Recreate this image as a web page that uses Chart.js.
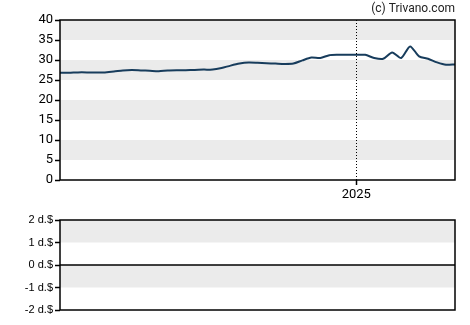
<!DOCTYPE html>
<html><head><meta charset="utf-8">
<script src="https://cdn.jsdelivr.net/npm/chart.js@4/dist/chart.umd.min.js"></script>
<style>
html,body{margin:0;padding:0;background:#fff;}
#top{position:absolute;left:0;top:0;width:470px;height:200px;}
#bot{position:absolute;left:0;top:200px;width:470px;height:125px;}
</style></head><body>
<div id="top"><canvas id="c1"></canvas></div>
<div id="bot"><canvas id="c2"></canvas></div>
<script>
const dates = ['2024-05-15','2024-05-22','2024-05-29','2024-06-05','2024-06-12','2024-06-19','2024-06-26',
'2024-07-03','2024-07-10','2024-07-17','2024-07-24','2024-07-31','2024-08-07','2024-08-14','2024-08-21','2024-08-28',
'2024-09-04','2024-09-11','2024-09-18','2024-09-25','2024-10-02','2024-10-09','2024-10-16','2024-10-23','2024-10-30',
'2024-11-06','2024-11-13','2024-11-20','2024-11-27','2024-12-04','2024-12-11','2024-12-18','2024-12-25',
'2025-01-01','2025-01-08','2025-01-15','2025-01-22','2025-01-29','2025-02-05','2025-02-12','2025-02-19','2025-02-26',
'2025-03-05','2025-03-12','2025-03-19'];
const prices = [26.8,26.8,26.9,26.9,26.85,26.9,27.1,27.4,27.5,27.4,27.3,27.2,27.4,27.45,27.45,27.5,27.6,27.6,
28.0,28.6,29.1,29.35,29.3,29.2,29.1,29.0,29.1,29.9,30.6,30.5,31.2,31.3,31.3,31.3,31.3,30.5,30.3,31.9,30.5,33.4,
30.9,30.3,29.4,28.8,28.9];
const priceTicks = [0,5,10,15,20,25,30,35,40];
const dividendTicks = [-2,-1,0,1,2];
const dividendUnit = ' d.$';
const yearTickDate = '2025-01-01';
const yearTickLabel = '2025';
const copyright = '(c) Trivano.com';

const DAY = 86400000;
const t0 = Date.parse(dates[0]);
const dayOf = d => (Date.parse(d) - t0) / DAY;
const points = dates.map((d, i) => ({x: dayOf(d), y: prices[i]}));

Chart.defaults.font.family = "Roboto, 'Liberation Sans', Arial, sans-serif";
Chart.defaults.font.size = 13;
Chart.defaults.color = '#000';

const bandsPlugin = {
  id: 'bands',
  beforeDatasetsDraw(chart) {
    const {ctx, chartArea: a, scales: {y}} = chart;
    const vals = y.ticks.map(t => t.value).sort((p, q) => p - q);
    ctx.save();
    ctx.fillStyle = '#ebebeb';
    for (let i = 1; i < vals.length - 1; i += 2) {
      const yTop = y.getPixelForValue(vals[i + 1]);
      const yBot = y.getPixelForValue(vals[i]);
      ctx.fillRect(a.left, yTop, a.right - a.left, yBot - yTop);
    }
    ctx.restore();
  }
};

const framePlugin = {
  id: 'frame',
  afterDraw(chart, args, opts) {
    const {ctx, chartArea: a, scales} = chart;
    ctx.save();
    if (opts.markDate) {
      const xp = Math.round(scales.x.getPixelForValue(dayOf(opts.markDate))) + 0.5;
      ctx.strokeStyle = '#000';
      ctx.lineWidth = 1;
      ctx.setLineDash([1, 2]);
      ctx.beginPath();
      ctx.moveTo(xp, a.top);
      ctx.lineTo(xp, a.bottom);
      ctx.stroke();
      ctx.setLineDash([]);
    }
    if (opts.zeroLine) {
      const yp = Math.round(scales.y.getPixelForValue(0));
      ctx.strokeStyle = '#000';
      ctx.lineWidth = 1.5;
      ctx.beginPath();
      ctx.moveTo(a.left, yp);
      ctx.lineTo(a.right, yp);
      ctx.stroke();
    }
    ctx.strokeStyle = '#000';
    ctx.lineWidth = 1.5;
    ctx.strokeRect(a.left, a.top, a.right - a.left, a.bottom - a.top);
    if (opts.text) {
      ctx.fillStyle = '#222';
      ctx.font = "12px Roboto, 'Liberation Sans', sans-serif";
      ctx.textAlign = 'right';
      ctx.textBaseline = 'middle';
      ctx.fillText(opts.text, a.right, 9);
    }
    ctx.restore();
  }
};

new Chart(document.getElementById('c1'), {
  type: 'line',
  data: {datasets: [{
    data: points,
    borderColor: '#173c5c',
    borderWidth: 2,
    pointRadius: 0,
    tension: 0.25,
    fill: false
  }]},
  options: {
    animation: false,
    responsive: true,
    maintainAspectRatio: false,
    devicePixelRatio: 1,
    layout: {padding: {top: 20, right: 15, left: 0, bottom: 0}},
    plugins: {legend: {display: false}, tooltip: {enabled: false},
      frame: {markDate: yearTickDate, text: copyright}},
    scales: {
      x: {
        type: 'linear',
        min: 0,
        max: dayOf(dates[dates.length - 1]),
        afterBuildTicks: s => { s.ticks = [{value: dayOf(yearTickDate)}]; },
        ticks: {callback: () => yearTickLabel, maxRotation: 0, padding: 2, autoSkip: false},
        grid: {drawOnChartArea: false, tickLength: 5, tickColor: '#000', tickWidth: 1.5},
        border: {display: false},
        afterFit: s => { s.height = 20; }
      },
      y: {
        min: 0, max: 40,
        afterBuildTicks: s => { s.ticks = priceTicks.map(v => ({value: v})); },
        ticks: {padding: 2},
        grid: {drawOnChartArea: false, tickLength: 5, tickColor: '#000', tickWidth: 1.5},
        border: {display: false},
        afterFit: s => { s.width = 60; }
      }
    }
  },
  plugins: [bandsPlugin, framePlugin]
});

new Chart(document.getElementById('c2'), {
  type: 'line',
  data: {datasets: [{data: [], borderWidth: 0, pointRadius: 0}]},
  options: {
    animation: false,
    responsive: true,
    maintainAspectRatio: false,
    devicePixelRatio: 1,
    layout: {padding: {top: 20, right: 15, left: 0, bottom: 15}},
    plugins: {legend: {display: false}, tooltip: {enabled: false}, frame: {zeroLine: true}},
    scales: {
      x: {type: 'linear', min: 0, max: 1, display: false},
      y: {
        min: -2, max: 2,
        afterBuildTicks: s => { s.ticks = dividendTicks.map(v => ({value: v})); },
        ticks: {padding: 2, font: {size: 11, family: "'Liberation Sans', Arial, sans-serif"}, callback: v => v + dividendUnit},
        grid: {drawOnChartArea: false, tickLength: 5, tickColor: '#000', tickWidth: 1.5},
        border: {display: false},
        afterFit: s => { s.width = 60; }
      }
    }
  },
  plugins: [bandsPlugin, framePlugin]
});
</script>
</body></html>
